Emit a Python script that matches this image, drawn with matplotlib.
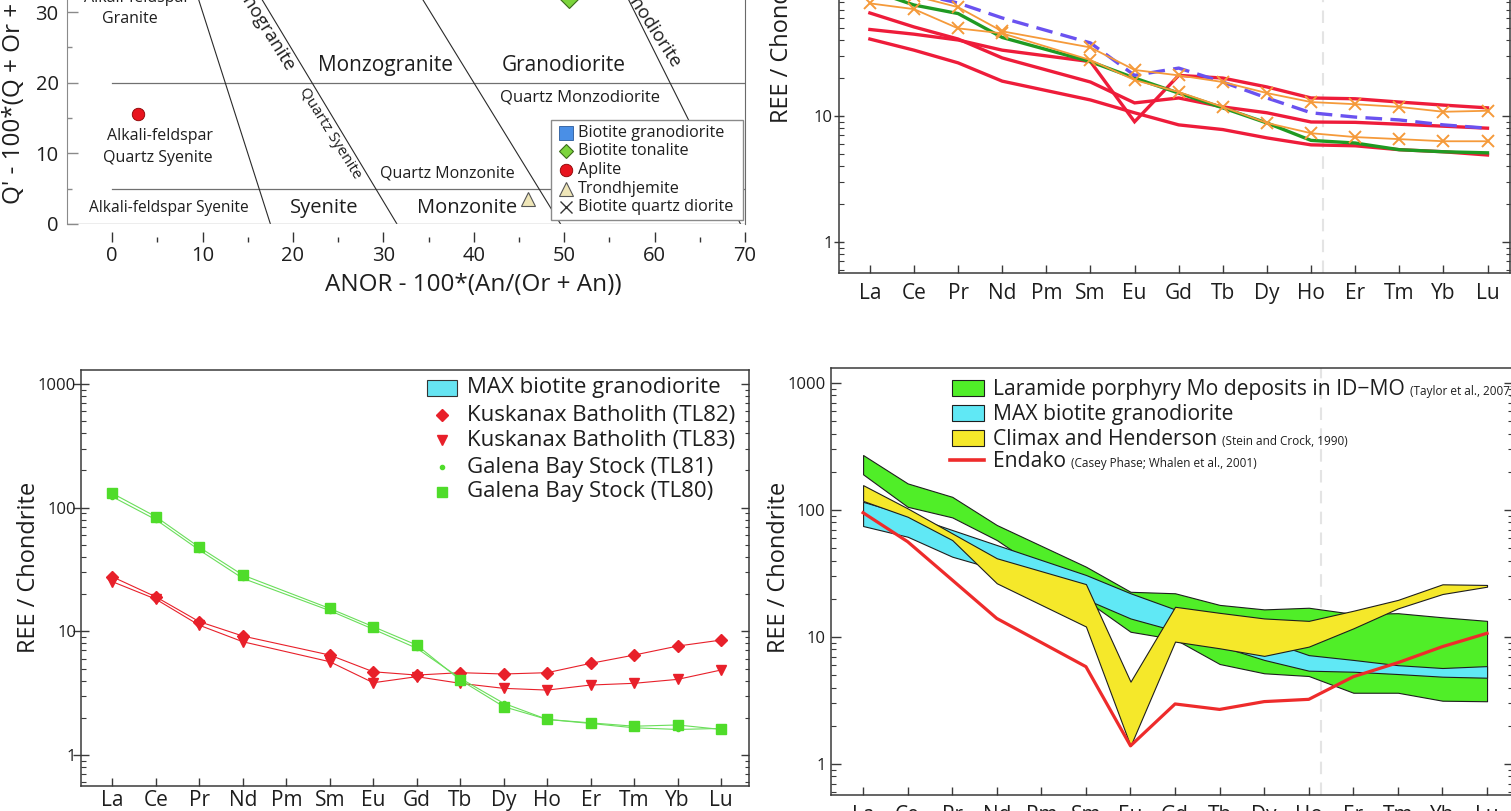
import matplotlib
matplotlib.use('Agg')
import matplotlib.pyplot as plt
from matplotlib.lines import Line2D
from matplotlib.patches import Rectangle
from matplotlib.ticker import LogLocator, NullFormatter

plt.rcParams['font.family'] = ['Open Sans', 'DejaVu Sans']

W, H = 1511, 811

# ---------------- data ----------------
# Q'-ANOR classification diagram
aplite_anor = [2.9]
aplite_q = [15.5]
trond_anor = [46.0]
trond_q = [3.6]
tonalite_anor = [50.5]
tonalite_q = [31.9]
field_lines_h = [20, 5]                       # horizontal field limits (ANOR 0 -> 70)
field_lines_diag = [(17.5, 8.75), (31.5, 15.05), (49.6, 32.8), (69.5, 55.85)]  # ANOR at Q'=0 and Q'=35
fields = [
    ('Alkali-feldspar', 2.7, 32.0, 11.5, 0),
    ('Granite', 2.0, 29.0, 11.5, 0),
    ('Syenogranite', 16.3, 28.7, 13.5, -58),
    ('Monzogranite', 30.2, 22.4, 15, 0),
    ('Granodiorite', 49.9, 22.4, 15, 0),
    ('Granodiorite', 59.1, 28.9, 13.5, -57),
    ('Quartz Monzodiorite', 51.8, 17.9, 12, 0),
    ('Alkali-feldspar', 5.25, 12.5, 11.5, 0),
    ('Quartz Syenite', 5.0, 9.3, 11.5, 0),
    ('Quartz Syenite', 24.1, 12.8, 11, -58),
    ('Quartz Monzonite', 37.1, 7.2, 11.5, 0),
    ('Alkali-feldspar Syenite', 6.25, 2.25, 11.2, 0),
    ('Syenite', 23.4, 2.25, 14.5, 0),
    ('Monzonite', 39.2, 2.25, 14.5, 0),
]

# REE patterns (Pm not analysed)
ree = ['La', 'Ce', 'Pr', 'Nd', 'Pm', 'Sm', 'Eu', 'Gd', 'Tb', 'Dy', 'Ho', 'Er', 'Tm', 'Yb', 'Lu']
measured = ['La', 'Ce', 'Pr', 'Nd', 'Sm', 'Eu', 'Gd', 'Tb', 'Dy', 'Ho', 'Er', 'Tm', 'Yb', 'Lu']

tr_red1 = [65.7, 50.9, 40.8, 28.9, 18.6, 12.7, 13.9, 11.8, 10.6, 8.96, 8.9, 8.6, 8.3, 8.0]
tr_red2 = [48.6, 44.6, 40.1, 33.3, 27.0, 9.0, 21, 20, 17, 13.9, 13.7, 12.9, 12.2, 11.6]
tr_red3 = [40.8, 33.3, 26.4, 18.9, 13.4, 10.6, 8.5, 7.8, 6.7, 5.9, 5.8, 5.4, 5.2, 4.9]
tr_green = [100, 76, 65, 42, 27, 20, 15.2, 11.6, 8.8, 6.4, 6.1, 5.4, 5.2, 5.1]
tr_blue = [120, 95, 78.8, 60, 38, 21, 24, 18.6, 13.9, 10.6, 9.8, 9.3, 8.5, 8.0]
tr_orange1 = [78.3, 70.5, 49.6, 45.3, 27.8, 19.3, 15.5, 11.8, 8.8, 7.3, 6.8, 6.55, 6.3, 6.3]
tr_orange2 = [110, 90, 73, 47, 35, 23.2, 21, 18.6, 15.2, 12.9, 12.4, 11.8, 10.8, 11.0]

bl_tl82 = [27.6, 19.0, 11.97, 9.16, 6.43, 4.71, 4.43, 4.63, 4.52, 4.63, 5.51, 6.43, 7.6, 8.5]
bl_tl83 = [25.2, 18.2, 11.2, 8.24, 5.68, 3.84, 4.3, 3.8, 3.46, 3.35, 3.68, 3.8, 4.09, 4.87]
bl_tl81 = [122.5, 80, 45.4, 26.8, 14.7, 10.4, 7.3, 4.17, 2.62, 1.94, 1.80, 1.66, 1.61, 1.64]
bl_tl80 = [130.5, 84.5, 47.8, 28.5, 15.3, 10.9, 7.75, 4.04, 2.46, 1.94, 1.82, 1.71, 1.75, 1.61]

br_green_hi = [271, 162, 127, 76.2, 35.8, 22.7, 22.1, 17.9, 16.5, 17.0, 15.2, 15.4, 14.3, 13.4]
br_green_lo = [191, 106, 87.5, 58, 19.5, 11.0, 9.6, 6.13, 5.18, 4.93, 3.64, 3.64, 3.15, 3.12]
br_cyan_hi = [116, 91.4, 69.6, 53, 30.8, 22.1, 16.5, 12.5, 9.5, 7.2, 6.6, 6.0, 5.7, 5.9]
br_cyan_lo = [74.8, 61.6, 42.9, 34, 19.8, 14.0, 11.2, 8.5, 6.6, 5.43, 5.33, 5.11, 4.87, 4.78]
br_yellow_hi = [157, 103, 65.5, 41.7, 26.1, 4.45, 17.3, 15.5, 14.0, 13.4, 16.1, 19.6, 26.0, 25.7]
br_yellow_lo = [118, 88.5, 58, 26.5, 12.1, 1.39, 9.2, 8.15, 7.1, 8.4, 11.7, 16.8, 21.8, 24.9]
br_endako = [95.2, 56.3, 28.1, 14.0, 5.84, 1.39, 2.97, 2.69, 3.1, 3.23, 4.87, 6.28, 8.4, 10.7]

SEAM_X = 10.27   # faint dashed seam visible in the right-hand panels

xm = [ree.index(e) for e in measured]

fig = plt.figure(figsize=(W / 100, H / 100), dpi=100)


def fx(px):
    return px / W


def fy(py):
    return 1 - py / H


def box(l, t, r, b):
    return [l / W, 1 - b / H, (r - l) / W, (b - t) / H]


spine_c = '#3a3a3a'
txt_c = '#1e1e1e'

# ---------------- top-left: Q' vs ANOR ----------------
ax1 = fig.add_axes(box(67, 0, 745, 224))
ax1.set_xlim(-5, 70)
ax1.set_ylim(0, 31.7)
for q in field_lines_h:
    ax1.plot([0, 70], [q, q], color='#707070', lw=0.9)
for x0, x1 in field_lines_diag:
    ax1.plot([x0, x1], [0, 35], color='#2a2a2a', lw=0.8)
ax1.axhline(0, color='#a8a8a8', lw=1.0)
for t, x, y, s, rot in fields:
    ax1.text(x, y, t, fontsize=s, rotation=rot, ha='center', va='center', color=txt_c)
ax1.plot(aplite_anor, aplite_q, 'o', ms=9, mfc='#e8141e', mec='#8a0000', mew=0.6, zorder=5)
ax1.plot(trond_anor, trond_q, '^', ms=10, mfc='#efe6b8', mec='#555555', mew=0.8, zorder=5)
ax1.plot(tonalite_anor, tonalite_q, 'D', ms=9, mfc='#7cd43c', mec='#3a6a1a', mew=0.8, zorder=5,
         clip_on=False)
ax1.spines['top'].set_visible(False)
ax1.spines['bottom'].set_position(('outward', 13))
ax1.spines['bottom'].set_visible(False)
ax1.spines['left'].set_color('#8a8a8a')
ax1.spines['right'].set_color('#6a6a6a')
ax1.set_xticks(range(0, 71, 10))
ax1.set_xticks(range(5, 70, 10), minor=True)
ax1.set_yticks([0, 10, 20, 30])
ax1.set_yticks([5, 15, 25], minor=True)
ax1.set_ylim(0, 31.7)
ax1.tick_params(axis='x', which='major', direction='in', length=7, width=1, color='#333333',
                labelsize=14.5, labelcolor=txt_c, pad=3)
ax1.tick_params(axis='x', which='minor', direction='in', length=3.5, width=1, color='#333333')
ax1.tick_params(axis='y', which='major', direction='in', length=8, width=1, color='#8a8a8a',
                labelsize=14.5, labelcolor=txt_c, pad=6)
ax1.tick_params(axis='y', which='minor', direction='in', length=3.5, width=1, color='#8a8a8a')
fig.text(fx(473), fy(285), 'ANOR - 100*(An/(Or + An))', fontsize=17.5, ha='center', va='center',
         color=txt_c)
fig.text(fx(14), fy(204), "Q' - 100*(Q + Or + Ab + An))", fontsize=17.5, rotation=90,
         ha='center', va='bottom', color=txt_c)

# legend (framed box)
fig.add_artist(Rectangle((fx(551), fy(220)), (743 - 551) / W, 100 / H, transform=fig.transFigure,
                         facecolor='white', edgecolor='#8a8a8a', lw=1.0, zorder=6))
leg1 = [
    ('Biotite granodiorite', dict(marker='s', ms=9.5, mfc='#4a8fe6', mec='#2a5a9a', mew=0.6)),
    ('Biotite tonalite', dict(marker='D', ms=7.5, mfc='#7cd43c', mec='#3a6a1a', mew=0.8)),
    ('Aplite', dict(marker='o', ms=9, mfc='#e8141e', mec='#8a0000', mew=0.6)),
    ('Trondhjemite', dict(marker='^', ms=10, mfc='#efe6b8', mec='#555555', mew=0.8)),
    ('Biotite quartz diorite', dict(marker='x', ms=9, mfc='none', mec='#333333', mew=1.0)),
]
for (lab, kw), yy in zip(leg1, [133, 151, 170, 189, 207]):
    fig.add_artist(Line2D([fx(566)], [fy(yy)], transform=fig.transFigure, ls='none', zorder=7, **kw))
    fig.text(fx(578), fy(yy), lab, fontsize=11.6, ha='left', va='center', color=txt_c, zorder=7)


def ree_axes(ax, ylim, major_dir, major_len, ypad, xpad, top=True):
    ax.set_yscale('log')
    ax.set_xticks(range(len(ree)))
    ax.set_xticklabels(ree)
    ax.set_yticks([1, 10, 100, 1000])
    ax.set_yticklabels(['1', '10', '100', '1000'])
    ax.yaxis.set_minor_locator(LogLocator(base=10, subs=range(2, 10)))
    ax.yaxis.set_minor_formatter(NullFormatter())
    ax.set_ylim(ylim)
    ax.tick_params(axis='x', direction='in', length=6, width=1, color=spine_c, labelsize=15,
                   labelcolor=txt_c, pad=xpad)
    ax.tick_params(axis='y', which='major', direction=major_dir, length=major_len, width=1,
                   color=spine_c, labelsize=12, labelcolor=txt_c, pad=ypad)
    ax.tick_params(axis='y', which='minor', direction='in', length=3.5, width=0.8, color=spine_c)
    for s in ax.spines.values():
        s.set_color(spine_c)
        s.set_linewidth(1.1)
    ax.spines['top'].set_visible(top)
    tw = ax.twinx()
    tw.set_yscale('log')
    tw.set_yticks([1, 10, 100, 1000])
    tw.yaxis.set_minor_locator(LogLocator(base=10, subs=range(2, 10)))
    tw.yaxis.set_minor_formatter(NullFormatter())
    tw.set_ylim(ylim)
    tw.tick_params(axis='y', which='major', direction='in', length=6, width=1, color=spine_c,
                   labelright=False)
    tw.tick_params(axis='y', which='minor', direction='in', length=3, width=0.8, color=spine_c)
    for s in tw.spines.values():
        s.set_visible(False)
    return tw


# ---------------- top-right: REE lines ----------------
ax2 = fig.add_axes(box(839, 0, 1510, 273))
ax2.set_xlim(-0.70, 14.51)
ax2.axvline(SEAM_X, color='#e4e4e4', lw=1.5, ls=(0, (6, 4)), zorder=0)
for ser in [tr_red1, tr_red2, tr_red3]:
    ax2.plot(xm, ser, color='#ee1c3a', lw=2.4, solid_joinstyle='miter')
ax2.plot(xm, tr_green, color='#1f9a22', lw=2.4)
ax2.plot(xm, tr_blue, color='#6a52f0', lw=2.4, ls=(0, (5, 2.5)))
for ser in [tr_orange1, tr_orange2]:
    ax2.plot(xm, ser, color='#f59a3a', lw=1.3, marker='x', ms=9, mew=1.4)
ree_axes(ax2, (0.567, 83.3), 'inout', 7, 1, 7, top=False)
fig.text(fx(782), fy(123), 'REE / Chondrite', fontsize=17, rotation=90, ha='center', va='bottom',
         color=txt_c)

# ---------------- bottom-left: Kuskanax / Galena Bay ----------------
ax3 = fig.add_axes(box(81, 370, 749, 786))
ax3.set_xlim(-0.72, 14.64)
red_c = '#e8202a'
grn_c = '#4fdc2a'
ax3.plot(xm, bl_tl82, color=red_c, lw=0.8, marker='D', ms=6, mec=red_c)
ax3.plot(xm, bl_tl83, color=red_c, lw=0.8, marker='v', ms=7, mec=red_c)
ax3.plot(xm, bl_tl81, color='#6ade5a', lw=0.8, marker='o', ms=3, mfc=grn_c, mec=grn_c)
ax3.plot(xm, bl_tl80, color='#6ade5a', lw=0.8, marker='s', ms=7, mfc=grn_c, mec=grn_c)
ree_axes(ax3, (0.562, 1295), 'inout', 11, -2, 3)
fig.text(fx(29), fy(567), 'REE / Chondrite', fontsize=17, rotation=90, ha='center', va='center',
         color=txt_c)

fig.add_artist(Rectangle((fx(427), fy(396)), 30 / W, 16 / H, transform=fig.transFigure,
                         facecolor='#66e4f2', edgecolor='#333333', lw=0.8))
leg3 = [
    (415, dict(marker='D', ms=6, mfc=red_c, mec=red_c)),
    (440, dict(marker='v', ms=7, mfc=red_c, mec=red_c)),
    (467, dict(marker='o', ms=3, mfc=grn_c, mec=grn_c)),
    (492, dict(marker='s', ms=7, mfc=grn_c, mec=grn_c)),
]
for yy, kw in leg3:
    fig.add_artist(Line2D([fx(442)], [fy(yy)], transform=fig.transFigure, ls='none', **kw))
leg3_labels = ['MAX biotite granodiorite', 'Kuskanax Batholith (TL82)', 'Kuskanax Batholith (TL83)',
               'Galena Bay Stock (TL81)', 'Galena Bay Stock (TL80)']
for lab, yy in zip(leg3_labels, [388, 415, 440, 467, 492]):
    fig.text(fx(467), fy(yy), lab, fontsize=16, ha='left', va='center', color=txt_c)

# ---------------- bottom-right: porphyry Mo comparison ----------------
ax4 = fig.add_axes(box(831, 368, 1512, 795))
ax4.set_xlim(-0.72, 14.56)
ax4.axvline(SEAM_X, color='#e4e4e4', lw=1.5, ls=(0, (6, 4)), zorder=0)
band_kw = dict(edgecolor='#1e1e1e', lw=0.8)
ax4.fill_between(xm, br_green_lo, br_green_hi, facecolor='#50ee28', **band_kw)
ax4.fill_between(xm, br_cyan_lo, br_cyan_hi, facecolor='#60e8f5', **band_kw)
ax4.fill_between(xm, br_yellow_lo, br_yellow_hi, facecolor='#f5e82a', **band_kw)
ax4.plot(xm, br_endako, color='#ee2b2b', lw=2.3)
ree_axes(ax4, (0.57, 1313), 'in', 7, 4, 7)
fig.text(fx(779), fy(567), 'REE / Chondrite', fontsize=17, rotation=90, ha='center', va='center',
         color=txt_c)

leg4 = [
    ('Laramide porphyry Mo deposits in ID\u2212MO', '(Taylor et al., 2007)', '#50ee28', 388),
    ('MAX biotite granodiorite', '', '#60e8f5', 413),
    ('Climax and Henderson', '(Stein and Crock, 1990)', '#f5e82a', 438),
    ('Endako', '(Casey Phase; Whalen et al., 2001)', None, 460),
]
main_texts = []
for lab, cite, col, yy in leg4:
    if col is None:
        fig.add_artist(Line2D([fx(950), fx(984)], [fy(yy), fy(yy)], transform=fig.transFigure,
                              color='#ee2b2b', lw=2.6))
    else:
        fig.add_artist(Rectangle((fx(952), fy(yy + 8)), 32 / W, 16 / H, transform=fig.transFigure,
                                 facecolor=col, edgecolor='#1e1e1e', lw=0.8))
    t = fig.text(fx(993), fy(yy + 7), lab, fontsize=15.2, ha='left', va='baseline', color=txt_c)
    main_texts.append((t, cite, yy))

fig.canvas.draw()
for t, cite, yy in main_texts:
    if cite:
        bb = t.get_window_extent()
        fig.text((bb.x1 + 5) / W, fy(yy + 7), cite, fontsize=8.5, ha='left', va='baseline',
                 color=txt_c)

fig.savefig('out.png', dpi=100)
